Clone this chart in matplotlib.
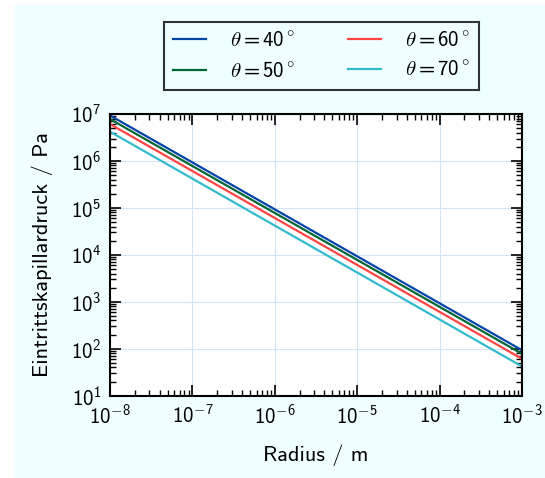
import matplotlib
matplotlib.use("Agg")
import matplotlib.pyplot as plt
from matplotlib.patches import Rectangle
from matplotlib.ticker import LogLocator, FuncFormatter
import numpy as np

plt.rcParams['font.family'] = ['cmss10', 'DejaVu Sans']
plt.rcParams['mathtext.fontset'] = 'custom'
plt.rcParams['mathtext.rm'] = 'cmss10'
plt.rcParams['mathtext.it'] = 'cmss10'
plt.rcParams['mathtext.sf'] = 'cmss10'
plt.rcParams['mathtext.fallback'] = 'cm'

# radius endpoints (m) and read-off entry pressures (Pa)
radius = [1e-8, 1e-3]
p_40 = [9.3e6, 93]
p_50 = [7.8e6, 78]
p_60 = [6.1e6, 61]
p_70 = [4.2e6, 42]
angles = [40, 50, 60, 70]
colors = ["#0044aa", "#006633", "#ff4444", "#33bbcc"]


def log_label(v, pos):
    e = int(round(np.log10(v)))
    if e < 0:
        return "$10^{\u2212%d}$" % (-e)
    return "$10^{%d}$" % e


W, H = 545, 478
fig = plt.figure(figsize=(W / 100, H / 100), dpi=100, facecolor="white")
fig.patches.append(Rectangle((14 / W, 0), 1, 1 - 5 / H, transform=fig.transFigure,
                             facecolor="#f0ffff", edgecolor="none", zorder=-10))
ax = fig.add_axes([110 / W, 1 - 395.7 / H, 412 / W, 281.7 / H])

for p, a, c in zip([p_40, p_50, p_60, p_70], angles, colors):
    ax.plot(radius, p, color=c, lw=1.6, label=r"$\theta = %d^\circ$" % a)

ax.set_xscale("log")
ax.set_yscale("log")
ax.set_xlim(1e-8, 1e-3)
ax.set_ylim(1e1, 1e7)
for axis in (ax.xaxis, ax.yaxis):
    axis.set_major_locator(LogLocator(base=10, numticks=20))
    axis.set_minor_locator(LogLocator(base=10, subs=np.arange(2, 10), numticks=20))
    axis.set_major_formatter(FuncFormatter(log_label))
ax.grid(True, which="major", color="#d4e4f7", lw=0.8)
ax.set_axisbelow(True)
for s in ax.spines.values():
    s.set_linewidth(1.5)
ax.tick_params(which="both", direction="in", top=True, right=True, labelsize=15)
ax.tick_params(which="major", length=8, width=1.2, pad=6)
ax.tick_params(which="minor", length=4, width=1.0)
ax.set_xlabel("Radius / m", fontsize=16, labelpad=12)
ax.set_ylabel("Eintrittskapillardruck / Pa", fontsize=16, labelpad=13)

leg = ax.legend(loc="upper center", bbox_to_anchor=(321.5 / W, 1 - 22 / H),
                bbox_transform=fig.transFigure, ncol=2, fontsize=15,
                frameon=True, fancybox=False, handlelength=1.6, handletextpad=1.15,
                columnspacing=2.5, borderaxespad=0, labelspacing=0.5, borderpad=0.45)
leg.get_frame().set_edgecolor("black")
leg.get_frame().set_linewidth(1.5)
leg.get_frame().set_facecolor("#f0ffff")

fig.savefig("out.png", dpi=100, facecolor=fig.get_facecolor())
